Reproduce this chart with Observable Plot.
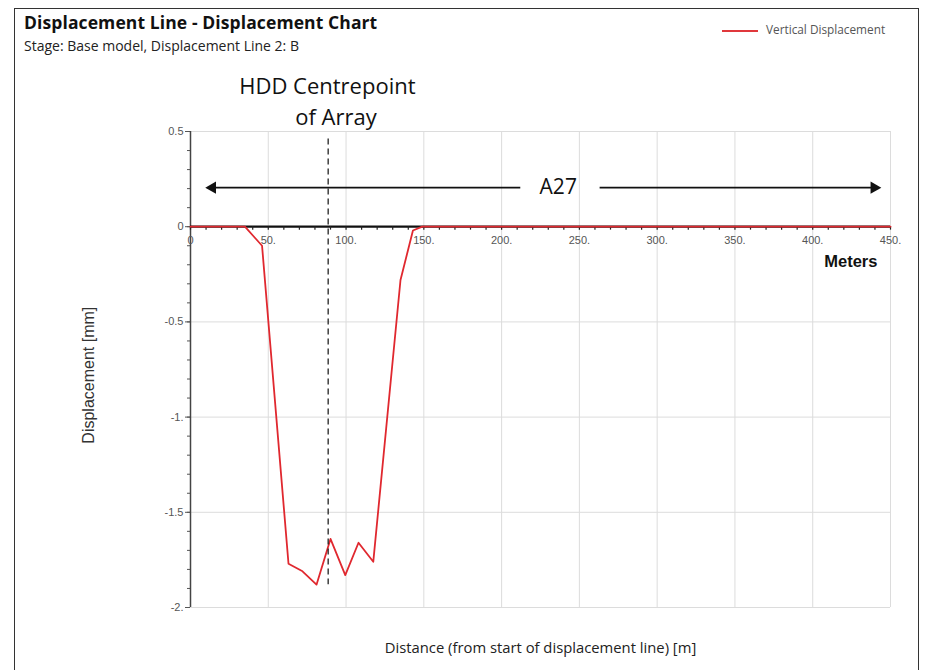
<!DOCTYPE html>
<html>
<head>
<meta charset="utf-8">
<script src="https://cdn.jsdelivr.net/npm/d3@7"></script>
<script src="https://cdn.jsdelivr.net/npm/@observablehq/plot@0.6"></script>
<style>
  body { margin: 0; background: #fff; }
  #wrap { position: relative; width: 928px; height: 670px; overflow: hidden; }
  #frame { position: absolute; left: 14px; top: 8px; width: 905px; height: 680px; border: 1.6px solid #333; box-sizing: border-box; }
  .title { position: absolute; left: 24px; top: 10px; font: bold 17.5px "Open Sans", sans-serif; color: #111; letter-spacing: 0.1px; }
  .subtitle { position: absolute; left: 24px; top: 36px; font: 14px "Open Sans", sans-serif; color: #222; }
  .legend { position: absolute; left: 722px; top: 21px; font: 11.8px "Open Sans", sans-serif; color: #555; }
  .legend .sw { position: absolute; left: 0; top: 9px; width: 36px; height: 1.6px; background: #e0383c; }
  .legend .lt { position: absolute; left: 44px; top: 0; white-space: nowrap; }
  #plot { position: absolute; left: 0; top: 0; }
</style>
</head>
<body>
<div id="wrap">
  <div id="frame"></div>
  <div class="title">Displacement Line - Displacement Chart</div>
  <div class="subtitle">Stage: Base model, Displacement Line 2: B</div>
  <div class="legend"><div class="sw"></div><div class="lt">Vertical Displacement</div></div>
  <div id="plot"></div>
</div>
<script>
// ---- data ----
const distance = [0, 35, 46, 63, 72, 81, 90, 99.5, 108, 117.5, 135, 143, 149, 450];
const verticalDisplacement = [0, 0, -0.1, -1.77, -1.81, -1.88, -1.64, -1.83, -1.66, -1.76, -0.28, -0.02, 0, 0];

const xTickValues = [0, 50, 100, 150, 200, 250, 300, 350, 400, 450];
const xTickLabels = ["0", "50.", "100.", "150.", "200.", "250.", "300.", "350.", "400.", "450."];
const yTickValues = [0.5, 0, -0.5, -1, -1.5, -2];
const yTickLabels = ["0.5", "0", "-0.5", "-1.", "-1.5", "-2."];
const xMinorTicks = d3.range(0, 451, 10);
const yMinorTicks = d3.range(-20, 6, 1).map(v => v / 10);

// annotations
const centrepointX = 88.5;
const centrepointY1 = 0.46, centrepointY2 = -1.88;
const annoTexts = ["HDD Centrepoint", "of Array"];
const annoX = [88, 93.5];
const annoY = [0.735, 0.572];
const arrowLabel = "A27";
const arrowLabelX = 236.4;
const arrowY = 0.205;
const arrowLeftTip = 9.6, arrowLeftEnd = 212;
const arrowRightStart = 263, arrowRightTip = 444;
const unitLabel = "Meters";
const unitX = 424.5, unitY = -0.182;

const series = distance.map((d, i) => ({distance: d, value: verticalDisplacement[i]}));
const xTicks = xTickValues.map((v, i) => ({v, label: xTickLabels[i]}));
const yLabelMap = new Map(yTickValues.map((v, i) => [v, yTickLabels[i]]));

const chart = Plot.plot({
  width: 928,
  height: 670,
  marginLeft: 190,
  marginRight: 38,
  marginTop: 131,
  marginBottom: 63,
  style: {fontFamily: "'Liberation Sans', Arial, sans-serif", background: "transparent", overflow: "visible"},
  x: {domain: [0, 450], axis: null},
  y: {domain: [-2, 0.5], label: null},
  marks: [
    Plot.gridX(xTickValues.slice(1), {stroke: "#dcdcdc", strokeOpacity: 1}),
    Plot.gridY(yTickValues, {stroke: "#dcdcdc", strokeOpacity: 1}),
    Plot.axisY(yMinorTicks, {tickSize: 3, tickFormat: () => "", color: "#555"}),
    Plot.axisY({ticks: yTickValues, tickSize: 5, tickPadding: 2, tickFormat: d => yLabelMap.get(d), fontSize: 11, color: "#555", label: null}),
    Plot.ruleX([0], {y1: -2, y2: 0.5, stroke: "#444", strokeWidth: 1.5}),
    Plot.ruleY([0], {x1: 0, x2: 450, stroke: "#111", strokeWidth: 2.2}),
    Plot.ruleX(xMinorTicks, {x: d => d, y1: 0, y2: -0.018, stroke: "#222", strokeWidth: 1.2}),
    Plot.text(xTicks, {x: "v", y: () => 0, text: "label", dy: 14, fontSize: 11, fill: "#555"}),
    Plot.line(series, {x: "distance", y: "value", stroke: "#e0282f", strokeWidth: 1.8}),
    Plot.ruleX([centrepointX], {y1: centrepointY1, y2: centrepointY2, stroke: "#222", strokeWidth: 1.3, strokeDasharray: "6,4"}),
    Plot.text(annoTexts, {x: (d, i) => annoX[i], y: (d, i) => annoY[i], text: d => d, fontSize: 22, fontFamily: "'Open Sans', sans-serif", fill: "#111"}),
    Plot.link([0], {x1: () => arrowLeftTip + 4, x2: () => arrowLeftEnd, y1: () => arrowY, y2: () => arrowY, stroke: "#111", strokeWidth: 1.6}),
    Plot.link([0], {x1: () => arrowRightStart, x2: () => arrowRightTip - 4, y1: () => arrowY, y2: () => arrowY, stroke: "#111", strokeWidth: 1.6}),
    Plot.dot([0], {x: () => arrowLeftTip, y: () => arrowY, symbol: "triangle", rotate: -90, r: 4.6, dx: 7, fill: "#111", stroke: "none"}),
    Plot.dot([0], {x: () => arrowRightTip, y: () => arrowY, symbol: "triangle", rotate: 90, r: 4.6, dx: -7, fill: "#111", stroke: "none"}),
    Plot.text([arrowLabel], {x: () => arrowLabelX, y: () => arrowY, text: d => d, fontSize: 21, fontFamily: "'Open Sans', sans-serif", fill: "#111"}),
    Plot.text([unitLabel], {x: () => unitX, y: () => unitY, text: d => d, fontSize: 16.5, fontWeight: "bold", fill: "#111"}),
    Plot.text(["Displacement [mm]"], {x: () => 0, y: () => -0.78, text: d => d, rotate: -90, dx: -102, fontSize: 16, fill: "#333"}),
    Plot.text(["Distance (from start of displacement line) [m]"], {x: () => 225, y: () => -2, text: d => d, dy: 41, fontSize: 14.8, fontFamily: "'Open Sans', sans-serif", fill: "#222"})
  ]
});
document.getElementById("plot").appendChild(chart);
</script>
</body>
</html>
